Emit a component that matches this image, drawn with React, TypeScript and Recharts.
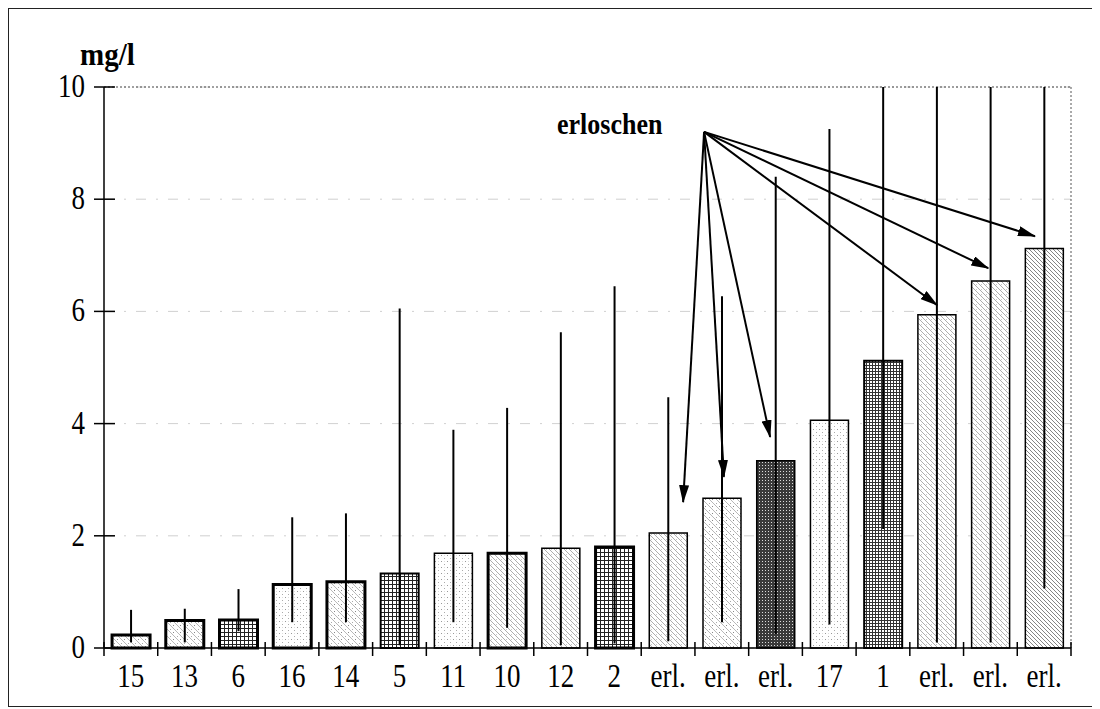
import React from 'react';
import {
  BarChart,
  Bar,
  Cell,
  XAxis,
  YAxis,
  CartesianGrid,
  ErrorBar,
  ReferenceLine,
} from 'recharts';

// ---- data ----
const categories = ['15', '13', '6', '16', '14', '5', '11', '10', '12', '2', 'erl.', 'erl.', 'erl.', '17', '1', 'erl.', 'erl.', 'erl.'];
const meanValues = [0.23, 0.49, 0.5, 1.13, 1.18, 1.33, 1.69, 1.69, 1.78, 1.8, 2.05, 2.67, 3.34, 4.06, 5.12, 5.94, 6.54, 7.12];
const minValues = [0.1, 0.1, 0.3, 0.46, 0.46, 0.05, 0.46, 0.36, 0.05, 0.08, 0.12, 0.46, 0.25, 0.42, 2.12, 0.1, 0.1, 1.06];
const maxValues = [0.68, 0.7, 1.05, 2.33, 2.4, 6.05, 3.89, 4.28, 5.63, 6.45, 4.47, 6.27, 8.4, 9.25, 10, 10, 10, 10];
const yTicks = [0, 2, 4, 6, 8, 10];

// annotation "erloschen" arrows (x in category-band units, y in mg/l)
const arrowOrigin = { x: 11.17, y: 9.2 };
const arrowTipX = [10.78, 11.54, 12.4, 15.51, 16.46, 17.33];
const arrowTipY = [2.6, 3.05, 3.76, 6.11, 6.77, 7.34];

// ---- styles per bar ----
const barFills = [
  'pDotDiag', 'pDotDiag', 'pGrid', 'pDots', 'pDotDiag', 'pGrid', 'pDots', 'pDiag', 'pDiag', 'pGrid',
  'pDiag', 'pDotDiag', 'pChecker', 'pDots', 'pGridDense', 'pDiag', 'pDiag', 'pDiagDark',
];
const barStrokeWidths = [3, 3, 3, 3, 3, 2, 1.5, 3, 1.5, 3, 1.5, 1.5, 1.5, 1.5, 2, 1.5, 1.5, 1.5];

const WIDTH = 1090;
const HEIGHT = 700;
const MARGIN = { top: 79, right: 27, bottom: 10, left: 36 };
const YAXIS_W = 60;
const XAXIS_H = 50;
const FONT = '"Liberation Serif", "Times New Roman", serif';
const STRETCH = 1.22;

const data = categories.map((c, i) => ({
  key: String(i),
  pos: i + 0.5,
  label: c,
  mean: meanValues[i],
  err: [meanValues[i] - minValues[i], maxValues[i] - meanValues[i]],
}));

const plotW = WIDTH - MARGIN.left - MARGIN.right - YAXIS_W;

const YTick = (props: any) => {
  const { x, y, payload } = props;
  return (
    <g>
      <line x1={x - 10} x2={x + 11} y1={y} y2={y} stroke="#000" strokeWidth={1.5} />
      <text
        transform={`translate(${x - 19},${y + 10}) scale(1,${STRETCH})`}
        textAnchor="end"
        fontSize={27}
        fontFamily={FONT}
        fill="#000"
      >
        {payload.value}
      </text>
    </g>
  );
};

const XTick = (props: any) => {
  const { x, y, payload } = props;
  const idx = payload.index ?? Number(payload.value);
  const half = payload.offset && payload.offset > 0 ? payload.offset : plotW / categories.length / 2;
  return (
    <g>
      {idx === 0 && (
        <line x1={x - half} x2={x - half} y1={y - 6} y2={y + 8} stroke="#000" strokeWidth={1.5} />
      )}
      <line x1={x + half} x2={x + half} y1={y - 6} y2={y + 8} stroke="#000" strokeWidth={1.5} />
      <text
        transform={`translate(${x},${y + 39}) scale(1,${STRETCH})`}
        textAnchor="middle"
        fontSize={27}
        fontFamily={FONT}
        fill="#000"
      >
        {categories[idx]}
      </text>
    </g>
  );
};

const ArrowShape = (props: any) => {
  const { x1, y1, x2, y2 } = props;
  if ([x1, y1, x2, y2].some((v) => v === undefined || Number.isNaN(v))) return <g />;
  return <line x1={x1} y1={y1} x2={x2} y2={y2} stroke="#000" strokeWidth={2} markerEnd="url(#arrowHead)" />;
};

export default function App() {
  return (
    <div style={{ position: 'relative', width: WIDTH, height: HEIGHT, fontFamily: FONT }}>
      <div
        style={{
          position: 'absolute',
          left: 0,
          top: 0,
          width: WIDTH,
          height: HEIGHT - 1,
          border: '1.5px solid #222',
          boxSizing: 'border-box',
        }}
      />
      <div
        style={{
          position: 'absolute',
          left: 72,
          top: 31,
          fontSize: 29,
          fontWeight: 'bold',
          lineHeight: 1,
          whiteSpace: 'nowrap',
          transform: 'scaleY(1.1)',
          transformOrigin: 'left top',
        }}
      >
        mg/l
      </div>
      <div
        style={{
          position: 'absolute',
          left: 549,
          top: 103,
          fontSize: 26,
          fontWeight: 'bold',
          lineHeight: 1,
          whiteSpace: 'nowrap',
          transform: 'scaleY(1.1)',
          transformOrigin: 'left top',
        }}
      >
        erloschen
      </div>
      <div style={{ position: 'absolute', left: 0, top: 0 }}>
        <BarChart width={WIDTH} height={HEIGHT} data={data} margin={MARGIN} barCategoryGap="15%">
          <defs>
            <pattern id="pDiag" width="5" height="5" patternUnits="userSpaceOnUse">
              <rect width="5" height="5" fill="#fff" />
              <path d="M0,0 L5,5 M-1,4 L1,6 M4,-1 L6,1" stroke="#8a8a8a" strokeWidth="0.7" />
              <rect x="3" y="1" width="0.8" height="0.8" fill="#aaa" />
            </pattern>
            <pattern id="pDiagDark" width="4" height="4" patternUnits="userSpaceOnUse">
              <rect width="4" height="4" fill="#fff" />
              <path d="M0,0 L4,4 M-1,3 L1,5 M3,-1 L5,1" stroke="#666" strokeWidth="0.8" />
            </pattern>
            <pattern id="pDotDiag" width="7" height="7" patternUnits="userSpaceOnUse">
              <rect width="7" height="7" fill="#fff" />
              <path d="M0,0 L7,7" stroke="#999" strokeWidth="0.7" />
              <rect x="4" y="1" width="1" height="1" fill="#888" />
              <rect x="1" y="5" width="1" height="1" fill="#aaa" />
            </pattern>
            <pattern id="pDots" width="6" height="6" patternUnits="userSpaceOnUse">
              <rect width="6" height="6" fill="#fff" />
              <rect x="1" y="1" width="1" height="1" fill="#999" />
              <rect x="4" y="4" width="1" height="1" fill="#aaa" />
              <rect x="4" y="1" width="0.7" height="0.7" fill="#bbb" />
            </pattern>
            <pattern id="pGrid" width="4" height="4" patternUnits="userSpaceOnUse">
              <rect width="4" height="4" fill="#fff" />
              <path d="M0.5,0 L0.5,4 M0,0.5 L4,0.5" stroke="#222" strokeWidth="1" />
            </pattern>
            <pattern id="pGridDense" width="3" height="3" patternUnits="userSpaceOnUse">
              <rect width="3" height="3" fill="#fff" />
              <path d="M0.5,0 L0.5,3 M0,0.5 L3,0.5" stroke="#333" strokeWidth="1" />
            </pattern>
            <pattern id="pChecker" width="3" height="3" patternUnits="userSpaceOnUse">
              <rect width="3" height="3" fill="#3a3a3a" />
              <rect x="1" y="1" width="1" height="1" fill="#ddd" />
            </pattern>
            <marker
              id="arrowHead"
              markerUnits="userSpaceOnUse"
              markerWidth="18"
              markerHeight="10"
              refX="17"
              refY="5"
              orient="auto"
            >
              <path d="M0,0 L18,5 L0,10 z" fill="#000" />
            </marker>
          </defs>
          <CartesianGrid
            vertical={false}
            stroke="#c4c4c4"
            strokeWidth={0.8}
            strokeDasharray="10 10 2 10"
          />
          <CartesianGrid
            horizontal={false}
            stroke="#555"
            strokeWidth={1}
            strokeDasharray="2 2"
            verticalCoordinatesGenerator={({ offset }: any) => [offset.left + offset.width]}
          />
          <XAxis
            dataKey="key"
            type="category"
            height={XAXIS_H}
            interval={0}
            tickSize={0}
            tickMargin={0}
            tickLine={false}
            axisLine={{ stroke: '#000', strokeWidth: 1.5 }}
            tick={<XTick />}
          />
          <XAxis
            xAxisId="n"
            dataKey="pos"
            type="number"
            domain={[0, categories.length]}
            allowDataOverflow
            hide
          />
          <YAxis
            width={YAXIS_W}
            domain={[0, 10]}
            ticks={yTicks}
            interval={0}
            tickSize={0}
            tickMargin={0}
            tickLine={false}
            axisLine={{ stroke: '#000', strokeWidth: 1.5 }}
            tick={<YTick />}
          />
          <ReferenceLine y={10} stroke="#444" strokeWidth={1} strokeDasharray="2 2" />
          <Bar dataKey="mean" isAnimationActive={false}>
            {data.map((d, i) => (
              <Cell key={d.key} fill={`url(#${barFills[i]})`} stroke="#000" strokeWidth={barStrokeWidths[i]} />
            ))}
            <ErrorBar dataKey="err" width={0} stroke="#000" strokeWidth={2} direction="y" isAnimationActive={false} />
          </Bar>
          {arrowTipX.map((tx, i) => (
            <ReferenceLine
              key={`arrow-${i}`}
              xAxisId="n"
              ifOverflow="visible"
              segment={[
                { x: arrowOrigin.x, y: arrowOrigin.y },
                { x: tx, y: arrowTipY[i] },
              ]}
              shape={<ArrowShape />}
            />
          ))}
        </BarChart>
      </div>
    </div>
  );
}
